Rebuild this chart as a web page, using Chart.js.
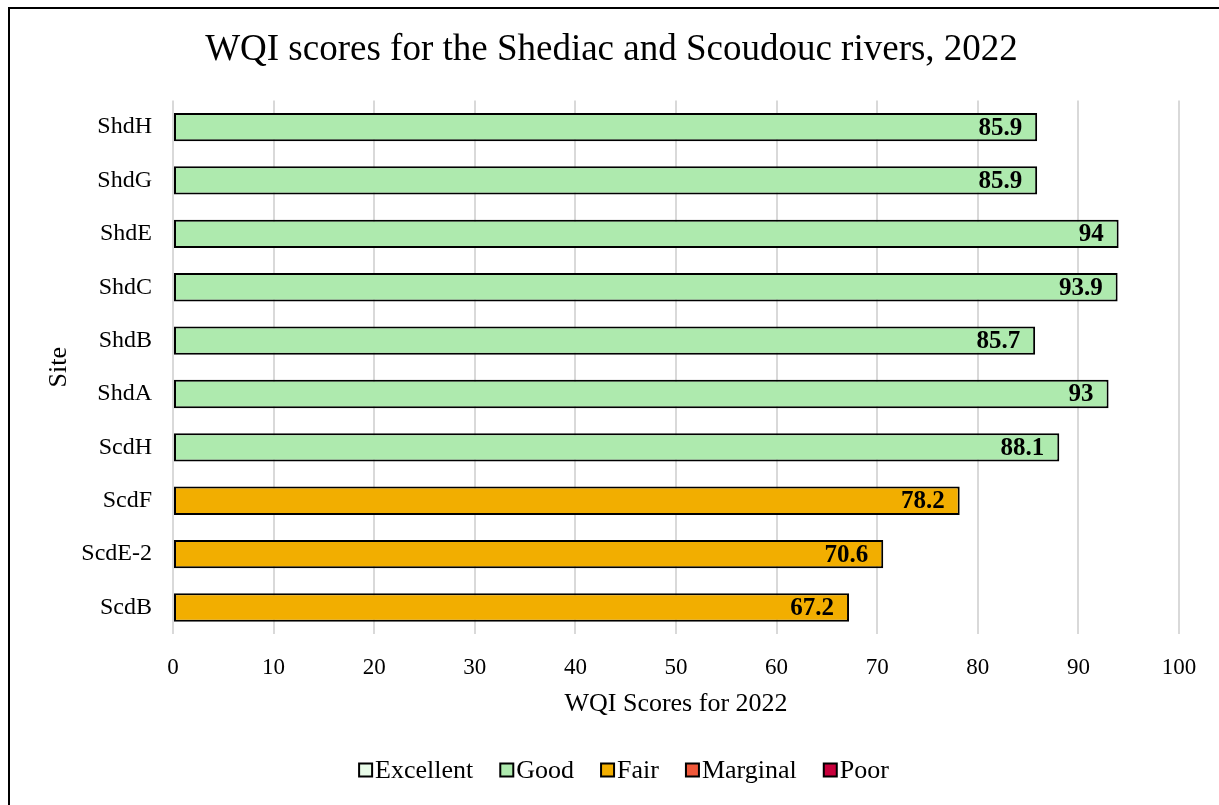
<!DOCTYPE html>
<html>
<head>
<meta charset="utf-8">
<script src="https://cdn.jsdelivr.net/npm/chart.js@4"></script>
<style>
  html, body { margin: 0; padding: 0; background: #fff; }
  #wrap { width: 1219px; height: 805px; }
</style>
</head>
<body>
<div id="wrap"><canvas id="vis"></canvas></div>
<script>
const sites = ['ShdH', 'ShdG', 'ShdE', 'ShdC', 'ShdB', 'ShdA', 'ScdH', 'ScdF', 'ScdE-2', 'ScdB'];
const scores = [85.9, 85.9, 94, 93.9, 85.7, 93, 88.1, 78.2, 70.6, 67.2];
const ratings = ['Good', 'Good', 'Good', 'Good', 'Good', 'Good', 'Good', 'Fair', 'Fair', 'Fair'];
const classes = ['Excellent', 'Good', 'Fair', 'Marginal', 'Poor'];
const classColors = ['#e8fbe8', '#aeeaae', '#f2ae00', '#f0583a', '#c8003c'];
const xTicks = [0, 10, 20, 30, 40, 50, 60, 70, 80, 90, 100];

const serif = 'Liberation Serif';

// one dataset per rating class so every class gets a legend entry
const datasets = classes.map((c, i) => ({
    label: c,
    data: scores.map((v, j) => ratings[j] === c ? v : null),
    backgroundColor: classColors[i],
    borderColor: '#000',
    borderWidth: 2,
    borderSkipped: false,
    barPercentage: 0.53,
    categoryPercentage: 1
}));

// score printed inside the right end of each bar
const valueLabels = {
    id: 'valueLabels',
    afterDatasetsDraw(chart) {
        const ctx = chart.ctx;
        ctx.save();
        ctx.font = 'bold 25px "' + serif + '"';
        ctx.fillStyle = '#000';
        ctx.textAlign = 'right';
        ctx.textBaseline = 'middle';
        chart.data.datasets.forEach((ds, i) => {
            chart.getDatasetMeta(i).data.forEach((bar, j) => {
                if (ds.data[j] == null) return;
                ctx.fillText(String(ds.data[j]), bar.x - 15, bar.y + 1);
            });
        });
        ctx.restore();
    }
};

// compact legend: small square right against its label
const classLegend = {
    id: 'classLegend',
    afterDraw(chart) {
        const ctx = chart.ctx;
        const box = 13, gap = 3, spacing = 27, y = 770;
        ctx.save();
        ctx.font = '26px "' + serif + '"';
        ctx.textBaseline = 'middle';
        ctx.textAlign = 'left';
        const widths = chart.data.datasets.map(ds => box + gap + ctx.measureText(ds.label).width);
        const total = widths.reduce((a, b) => a + b, 0) + spacing * (widths.length - 1);
        let x = 624 - total / 2;
        chart.data.datasets.forEach((ds, i) => {
            ctx.fillStyle = ds.backgroundColor;
            ctx.fillRect(x, y - box / 2, box, box);
            ctx.strokeStyle = '#000';
            ctx.lineWidth = 2;
            ctx.strokeRect(x, y - box / 2, box, box);
            ctx.fillStyle = '#000';
            ctx.fillText(ds.label, x + box + gap, y + 1);
            x += widths[i] + spacing;
        });
        ctx.restore();
    }
};

// white page and the frame round the figure
const frame = {
    id: 'frame',
    beforeDraw(chart) {
        const ctx = chart.ctx;
        ctx.save();
        ctx.fillStyle = '#fff';
        ctx.fillRect(0, 0, chart.width, chart.height);
        ctx.restore();
    },
    afterDraw(chart) {
        const ctx = chart.ctx;
        ctx.save();
        ctx.strokeStyle = '#000';
        ctx.lineWidth = 2;
        ctx.strokeRect(9, 8, chart.width + 50, chart.height + 50);
        ctx.restore();
    }
};

const ctx = document.getElementById('vis').getContext('2d');
const myChart = new Chart(ctx, {
    type: 'bar',
    data: { labels: sites, datasets: datasets },
    options: {
        indexAxis: 'y',
        responsive: true,
        maintainAspectRatio: false,
        animation: false,
        layout: { padding: { left: 44, right: 40, bottom: 85 } },
        scales: {
            x: {
                stacked: true,
                min: 0,
                max: 100,
                afterBuildTicks(axis) { axis.ticks = xTicks.map(v => ({ value: v })); },
                grid: { color: '#d9d9d9', lineWidth: 2, drawTicks: false },
                border: { display: false },
                ticks: { color: '#000', padding: 20, font: { family: serif, size: 23 } },
                title: { display: true, text: 'WQI Scores for 2022', color: '#000',
                         padding: { top: -13, bottom: 0 }, font: { family: serif, size: 26 } }
            },
            y: {
                stacked: true,
                afterFit(axis) { axis.width = 129; },
                grid: { display: false, drawTicks: false },
                border: { display: false },
                ticks: { color: '#000', padding: 21, font: { family: serif, size: 24 } },
                title: { display: true, text: 'Site', color: '#000',
                         padding: { top: 0, bottom: 4 }, font: { family: serif, size: 26 } }
            }
        },
        plugins: {
            title: {
                display: true,
                text: 'WQI scores for the Shediac and Scoudouc rivers, 2022',
                color: '#000',
                font: { family: serif, size: 37, weight: 'normal' },
                padding: { top: 28, bottom: 28 }
            },
            legend: { display: false },
            tooltip: { enabled: false }
        }
    },
    plugins: [frame, valueLabels, classLegend]
});
</script>
</body>
</html>
